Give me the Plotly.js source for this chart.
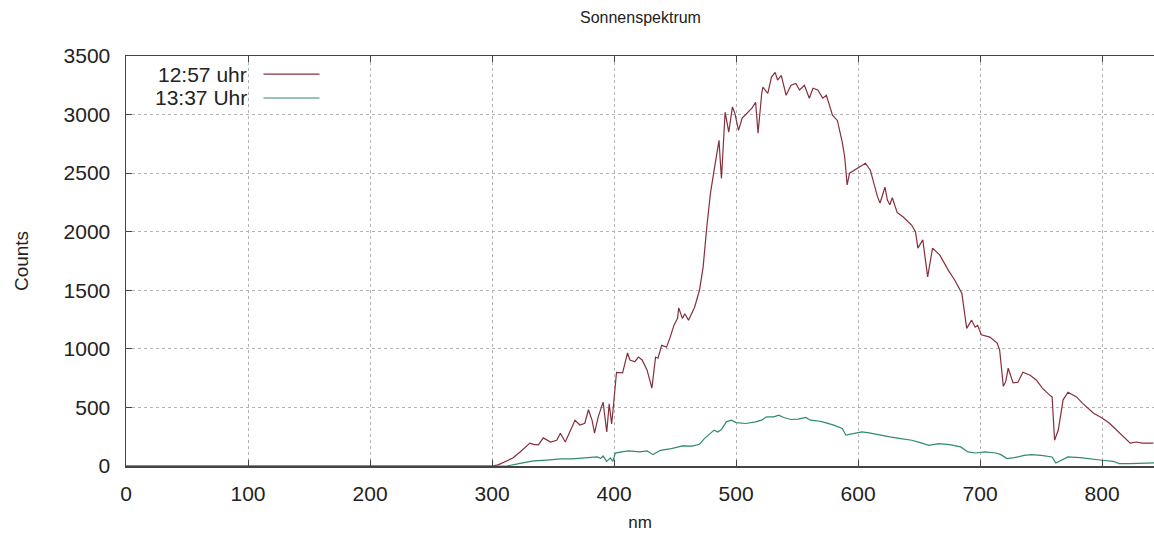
<!DOCTYPE html>
<html>
<head>
<meta charset="utf-8">
<script src="https://cdn.plot.ly/plotly-3.0.1.min.js"></script>
<style>html,body{margin:0;padding:0;background:#fff;}#chart{width:1154px;height:541px;}</style>
</head>
<body>
<div id="chart"></div>
<script>
// ---- data ----
const seriesNames = ["12:57 uhr", "13:37 Uhr"];
const chartTitle = "Sonnenspektrum";
const xTitle = "nm";
const yTitle = "Counts";
const xTicks = [0, 100, 200, 300, 400, 500, 600, 700, 800];
const yTicks = [0, 500, 1000, 1500, 2000, 2500, 3000, 3500];

const redNm = [0,100,200,290,300,305,317,323,329,331,334,338,342,348,353,356,360,363,368,372,376,379,382,384,387,391,394,396,398,399,401,402,407,411,413,417,420,423,427,431,434,436,439,443,446,449,452,453,456,458,461,464,466,470,473,476,479,482,485,486,487,488,489,491,494,497,499,502,505,509,513,516,518,521,522,526,529,532,534,537,541,545,549,552,556,560,563,567,571,574,579,583,587,589,591,593,597,601,606,610,612,616,618,622,624,626,628,632,637,644,647,649,653,657,661,667,674,679,685,688,689,693,696,698,701,708,714,716,719,721,723,727,731,735,741,746,751,757,759,761,764,768,772,779,784,793,800,806,812,819,823,828,833,842];
const redCounts = [0,0,0,0,0,10,68,120,180,195,185,180,240,205,220,280,205,280,390,350,365,480,390,280,420,545,290,530,360,460,735,800,795,965,905,890,930,905,820,665,930,920,1030,1015,1100,1200,1260,1350,1260,1300,1245,1315,1355,1500,1700,2040,2330,2525,2700,2780,2610,2455,2640,3020,2850,3065,3010,2865,2970,3010,3055,3105,2840,3180,3235,3180,3320,3360,3295,3335,3165,3250,3265,3210,3250,3140,3225,3210,3140,3165,2995,2950,2765,2640,2400,2500,2525,2550,2585,2525,2440,2295,2245,2380,2270,2230,2290,2165,2125,2055,2000,1860,1930,1615,1860,1800,1670,1590,1475,1270,1175,1245,1185,1200,1120,1100,1050,990,680,720,835,710,715,800,775,735,665,605,590,220,305,565,630,590,535,450,410,365,305,240,195,205,195,195];

const greenNm = [0,100,200,300,312,323,334,345,356,366,378,386,389,391,394,397,399,401,406,412,421,427,432,438,447,456,464,470,474,482,485,488,492,496,500,508,516,521,525,531,535,539,545,551,557,561,566,571,580,587,590,596,603,609,618,626,635,644,651,658,666,675,684,690,696,704,713,717,722,728,736,742,750,759,762,766,772,782,791,800,809,814,823,835,843];
const greenCounts = [0,0,0,0,0,23,43,51,60,60,68,77,65,85,40,70,40,110,120,129,120,129,97,134,149,171,169,186,234,306,290,311,377,391,371,363,377,391,420,420,434,414,397,400,414,391,386,377,349,320,263,277,291,283,263,249,234,220,200,177,191,183,163,120,111,120,111,97,63,71,91,97,91,77,26,49,77,71,57,49,40,20,20,20,26];

const colors = ["#862f3c", "#2f8a6e"];

// ---- chart ----
const traces = [
  {x: redNm, y: redCounts, name: seriesNames[0], type: "scatter", mode: "lines",
   line: {color: colors[0], width: 1.2}, showlegend: false},
  {x: greenNm, y: greenCounts, name: seriesNames[1], type: "scatter", mode: "lines",
   line: {color: colors[1], width: 1.2}, showlegend: false}
];

const fontFam = "Liberation Sans, Arial, sans-serif";
const lx1 = 0.1337, lx2 = 0.1882, ly = [0.956, 0.8976];

const layout = {
  width: 1154, height: 541,
  paper_bgcolor: "#ffffff", plot_bgcolor: "#ffffff",
  margin: {l: 125.5, r: 0, t: 56, b: 75, pad: 0},
  font: {family: fontFam, color: "#222"},
  title: {text: chartTitle, x: 0.555, xanchor: "center", y: 0.967, yanchor: "middle",
          font: {size: 16, family: fontFam, color: "#222"}},
  xaxis: {
    range: [0, 842.5], tickvals: xTicks, ticktext: xTicks.map(String),
    showgrid: true, gridcolor: "#b4b4b4", griddash: "3px,3px", gridwidth: 1,
    zeroline: false, showline: true, linecolor: "#444", linewidth: 1.5,
    ticks: "inside", ticklen: 6, tickcolor: "#444", mirror: "ticks",
    tickfont: {size: 21, family: fontFam, color: "#222"},
    ticklabelstandoff: 8,
    layer: "above traces",
    title: {text: xTitle, font: {size: 17, family: fontFam, color: "#222"}, standoff: 12}
  },
  yaxis: {
    range: [0, 3500], tickvals: yTicks, ticktext: yTicks.map(String),
    showgrid: true, gridcolor: "#b4b4b4", griddash: "3px,3px", gridwidth: 1,
    zeroline: false, showline: true, linecolor: "#444", linewidth: 1.5,
    ticks: "inside", ticklen: 6, tickcolor: "#444",
    tickfont: {size: 21, family: fontFam, color: "#222"},
    ticklabelstandoff: 10,
    layer: "above traces",
    title: {text: yTitle, font: {size: 19, family: fontFam, color: "#222"}, standoff: 30}
  },
  annotations: seriesNames.map((n, i) => ({
    text: n, xref: "paper", yref: "paper", x: 0.1195, y: ly[i],
    xanchor: "right", yanchor: "middle", showarrow: false,
    font: {size: 21, family: fontFam, color: "#222"}
  })),
  shapes: colors.map((c, i) => ({
    type: "line", xref: "paper", yref: "paper",
    x0: lx1, x1: lx2, y0: ly[i], y1: ly[i],
    line: {color: c, width: 1.2}
  }))
};

Plotly.newPlot("chart", traces, layout, {displayModeBar: false, staticPlot: true});
</script>
</body>
</html>
